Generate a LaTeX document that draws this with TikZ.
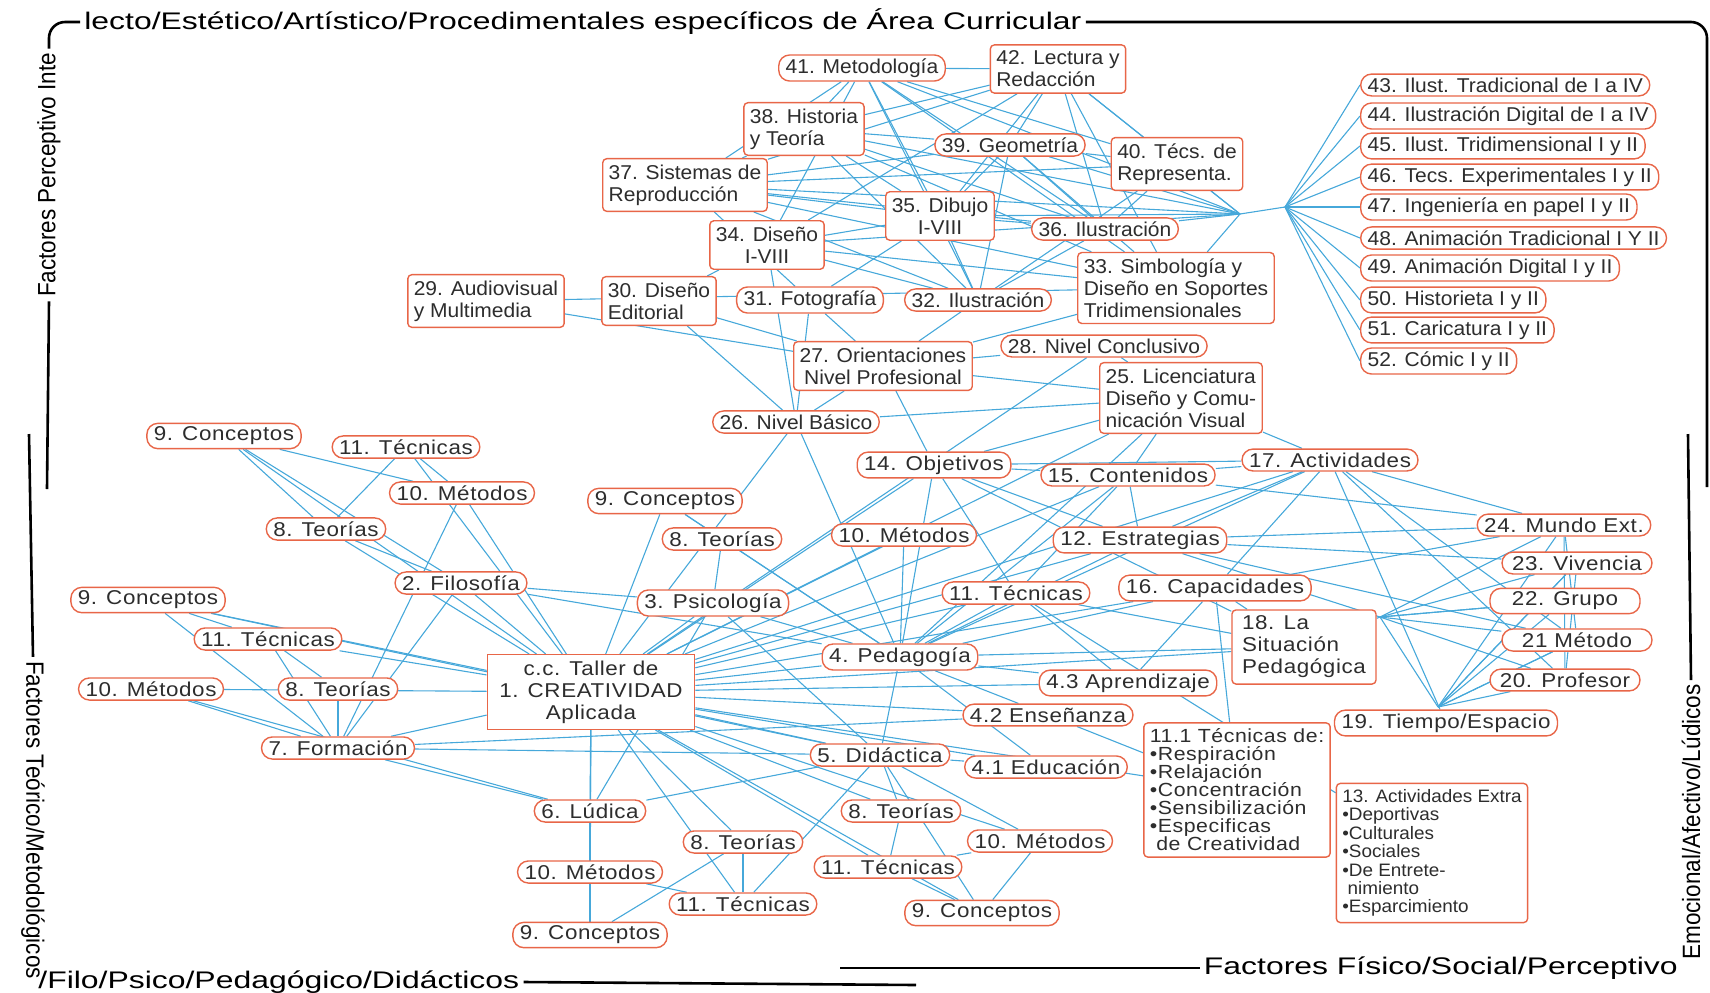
\documentclass[tikz,border=0pt]{standalone}
\usepackage{fontspec}
\setmainfont{Liberation Sans}
\newfontfamily\topfont[FakeStretch=1.05]{Liberation Sans}
\newfontfamily\lowfont[FakeStretch=1.12,LetterSpace=3]{Liberation Sans}
\newfontfamily\bordfont[FakeStretch=1.33]{Liberation Sans}
\newfontfamily\sidefont[FakeStretch=0.9]{Liberation Sans}
\usetikzlibrary{backgrounds}
\definecolor{linkblue}{RGB}{70,168,218}
\definecolor{boxred}{RGB}{232,102,72}
\definecolor{ink}{RGB}{45,45,45}

\begin{document}
\begin{tikzpicture}[x=0.5pt,y=-0.5pt,
  link/.style={linkblue,line width=0.55pt},
  bord/.style={line width=1.3pt},
  pill/.style={draw=boxred,fill=white,text=ink,line width=0.7pt,rounded corners=5.5pt,
    inner xsep=3.5pt,inner ysep=1.8pt,font=\topfont\fontsize{10}{11}\selectfont},
  lpill/.style={pill,font=\lowfont\fontsize{10}{11}\selectfont},
  card/.style={draw=boxred,fill=white,text=ink,line width=0.7pt,rounded corners=2pt,
    inner sep=3pt,align=left,font=\topfont\fontsize{10}{11}\selectfont},
  lcard/.style={card,font=\lowfont\fontsize{10}{11}\selectfont},
  side/.style={font=\sidefont\fontsize{12.5}{13}\selectfont,inner sep=2pt},
  hor/.style={font=\bordfont\fontsize{12}{13}\selectfont,inner sep=2pt}]
\useasboundingbox (0,0) rectangle (1710,992);

% frame texts
\node[hor,anchor=west] (topT) at (80,22) {lecto/Estético/Artístico/Procedimentales específicos de Área Curricular};
\node[side,rotate=90] (sideTL) at (49,175) {Factores Perceptivo Inte};
\node[side,rotate=-90] (sideBL) at (33,820) {Factores Teórico/Metodológicos};
\node[hor,anchor=west] (botT) at (34,982) {/Filo/Psico/Pedagógico/Didácticos};
\node[hor,anchor=east] (brT) at (1682,968) {Factores Físico/Social/Perceptivo};
\node[side,rotate=90] (sideR) at (1691,822) {Emocional/Afectivo/Lúdicos};
\coordinate (cR) at (1707,487);
\coordinate (cL1) at (47,489);
\coordinate (cL2) at (29,434);
\coordinate (cB1) at (916,985);
\coordinate (cB2) at (840,968);
\coordinate (cR2) at (1688,434);
\draw[bord,rounded corners=8pt] (sideTL.east) |- (topT.west);
\draw[bord,rounded corners=8pt] (topT.east) -| (cR);
\draw[bord] (sideTL.west) -- (cL1);
\draw[bord] (cL2) -- (sideBL.west);
\draw[bord] (botT.east) -- (cB1);
\draw[bord] (cB2) -- (brT.west);
\draw[bord] (sideR.east) -- (cR2);

% upper block: areas of the curriculum
\node[pill] (n41) at (862,68) {41. Metodología};
\node[card] (n42) at (1058,69) {42. Lectura y\\Redacción};
\node[card] (n38) at (804,129) {38. Historia\\y Teoría};
\node[pill] (n39) at (1010,145) {39. Geometría};
\node[card] (n40) at (1177,164) {40. Técs. de\\Representa.};
\node[card] (n37) at (685,185) {37. Sistemas de\\Reproducción};
\node[card,align=center] (n35) at (940,216) {35. Dibujo\\I-VIII};
\node[pill] (n36) at (1105,229) {36. Ilustración};
\node[card,align=center] (n34) at (767,245) {34. Diseño\\I-VIII};
\node[card] (n33) at (1176,288) {33. Simbología y\\Diseño en Soportes\\Tridimensionales};
\node[card] (n29) at (486,301) {29. Audiovisual\\y Multimedia};
\node[card] (n30) at (659,301) {30. Diseño\\Editorial};
\node[pill] (n31) at (810,300) {31. Fotografía};
\node[pill] (n32) at (978,300) {32. Ilustración};
\node[pill] (n28) at (1104,346) {28. Nivel Conclusivo};
\node[card,align=center] (n27) at (883,366) {27. Orientaciones\\Nivel Profesional};
\node[card] (n25) at (1181,398) {25. Licenciatura\\Diseño y Comu-\\nicación Visual};
\node[pill] (n26) at (796,422) {26. Nivel Básico};
\coordinate (hubB) at (1240,214);
\coordinate (hubA) at (1285,207);

% list on the right
\foreach \k/\y/\txt in {43/85/{Ilust. Tradicional de I a IV},44/116/{Ilustración Digital de I a IV},
  45/146/{Ilust. Tridimensional I y II},46/177/{Tecs. Experimentales I y II},
  47/207/{Ingeniería en papel I y II},48/238/{Animación Tradicional I Y II},
  49/268/{Animación Digital I y II},50/300/{Historieta I y II},
  51/330/{Caricatura I y II},52/361/{Cómic I y II}}
  \node[pill,anchor=west] (n\k) at (1360,\y) {\k. \txt};

% lower block
\node[lpill] (c9a) at (224,436) {9. Conceptos};
\node[lpill] (t11a) at (406,447) {11. Técnicas};
\node[lpill] (m10a) at (462,493) {10. Métodos};
\node[lpill] (t8a) at (326,529) {8. Teorías};
\node[lpill] (fil2) at (461,583) {2. Filosofía};
\node[lpill] (c9b) at (148,600) {9. Conceptos};
\node[lpill] (t11b) at (268,639) {11. Técnicas};
\node[lpill] (m10b) at (151,689) {10. Métodos};
\node[lpill] (t8b) at (338,689) {8. Teorías};
\node[lpill] (for7) at (338,748) {7. Formación};
\node[draw=boxred,fill=white,text=ink,line width=0.7pt,align=center,inner xsep=6pt,inner ysep=3pt,
  font=\lowfont\fontsize{10}{11}\selectfont] (cre1) at (591,692) {c.c. Taller de\\1. CREATIVIDAD\\Aplicada};
\node[lpill] (c9c) at (665,501) {9. Conceptos};
\node[lpill] (t8c) at (722,539) {8. Teorías};
\node[lpill] (psi3) at (713,603) {3. Psicología};
\node[lpill] (m10c) at (904,535) {10. Métodos};
\node[lpill] (obj14) at (934,465) {14. Objetivos};
\node[lpill] (con15) at (1128,475) {15. Contenidos};
\node[lpill] (act17) at (1330,460) {17. Actividades};
\node[lpill] (est12) at (1140,540) {12. Estrategias};
\node[lpill] (t11d) at (1016,593) {11. Técnicas};
\node[lpill] (cap16) at (1215,588) {16. Capacidades};
\node[lcard,minimum width=72pt,minimum height=31pt] (sit18) at (1304,647) {18. La\\Situación\\Pedagógica};
\node[lpill] (ped4) at (900,657) {4. Pedagogía};
\node[lpill] (apr43) at (1128,683) {4.3 Aprendizaje};
\node[lpill] (ens42) at (1048,715) {4.2 Enseñanza};
\node[lpill] (did5) at (880,755) {5. Didáctica};
\node[lpill] (edu41) at (1046,767) {4.1 Educación};
\node[lcard,font=\lowfont\fontsize{9.5}{9}\selectfont] (tec111) at (1237,790)
  {11.1 Técnicas de:\\•Respiración\\•Relajación\\•Concentración\\•Sensibilización\\•Especificas\\\ de Creatividad};
\node[card,font=\topfont\fontsize{9}{9.2}\selectfont,minimum width=90pt,minimum height=68pt] (ext13) at (1432,853)
  {13. Actividades Extra\\•Deportivas\\•Culturales\\•Sociales\\•De Entrete-\\\ nimiento\\•Esparcimiento};
\node[lpill] (lud6) at (590,811) {6. Lúdica};
\node[lpill] (t8e) at (743,842) {8. Teorías};
\node[lpill] (t8f) at (901,811) {8. Teorías};
\node[lpill] (m10e) at (590,872) {10. Métodos};
\node[lpill] (t11e) at (743,904) {11. Técnicas};
\node[lpill] (c9e) at (590,935) {9. Conceptos};
\node[lpill] (t11f) at (888,867) {11. Técnicas};
\node[lpill] (m10f) at (1040,841) {10. Métodos};
\node[lpill] (c9f) at (982,913) {9. Conceptos};
\node[lpill,minimum width=75pt] (mun24) at (1564,525) {24. Mundo Ext.};
\node[lpill,minimum width=75pt] (viv23) at (1577,563) {23. Vivencia};
\node[lpill,minimum width=75pt] (gru22) at (1565,601) {22. Grupo};
\node[lpill,minimum width=75pt] (met21) at (1577,640) {21 Método};
\node[lpill,minimum width=75pt] (pro20) at (1565,680) {20. Profesor};
\node[lpill] (tie19) at (1446,723) {19. Tiempo/Espacio};
\coordinate (hubC) at (1380,617);
\coordinate (hubD) at (1438,707);

\begin{pgfonlayer}{background}
% upper web
\foreach \a/\b in {n41/n38,n41/n35,n41/n34,n41/n32,n41/n36,n41/n42,n41/n37,n41/n33,n41/n40,n41/hubB,
  n42/n37,n42/n39,n42/n36,n42/n40,n42/n33,n42/n34,n42/n35,n42/n38,n42/hubB,
  n38/n35,n38/n36,n38/n32,n38/n33,n38/n37,n38/n39,n38/hubB,
  n39/n37,n39/n35,n39/n36,n39/n32,n39/n33,n39/hubB,n39/n40,
  n37/n36,n37/n33,n37/n32,n37/n35,n37/hubB,n37/n40,n37/n31,
  n40/n36,n40/hubB,n40/n32,n35/n31,n35/n32,n35/hubB,n35/n36,n35/n34,
  n36/hubB,n36/n32,n33/hubB,n33/n27,n34/n30,n34/n33,n34/hubB,n34/n32,n34/n26,
  n31/n27,n32/n27,n29/n27,n30/n27,n29/n33,n30/n26,n31/n26,
  n27/n28,n27/n25,n27/n26,n28/n25,n26/n25,hubB/hubA}
  \draw[link] (\a) -- (\b);
\foreach \k in {43,...,52} \draw[link] (hubA) -- (n\k.west);
% lower web
\foreach \a/\b in {n26/ped4,n26/cre1,n27/obj14,n25/obj14,n25/con15,n25/act17,n25/cre1,n25/ped4,n28/cre1,
  c9a/t8a,c9a/m10a,c9a/cre1,c9a/fil2,t11a/t8a,t11a/m10a,t11a/cre1,m10a/cre1,m10a/for7,
  t8a/fil2,t8a/cre1,fil2/cre1,fil2/for7,fil2/psi3,fil2/ped4,
  c9b/cre1,c9b/t11b,c9b/for7,c9b/did5,t11b/for7,t11b/cre1,t11b/t8b,
  m10b/for7,m10b/cre1,m10b/lud6,t8b/for7,for7/cre1,for7/lud6,for7/did5,for7/ens42,
  cre1/lud6,cre1/m10e,cre1/c9e,cre1/t11e,cre1/t8e,cre1/t8f,cre1/did5,cre1/ped4,cre1/psi3,
  cre1/c9c,cre1/apr43,cre1/ens42,cre1/edu41,cre1/tec111,cre1/est12,cre1/obj14,cre1/m10c,
  cre1/con15,cre1/cap16,cre1/t11d,cre1/sit18,cre1/act17,cre1/t11f,cre1/m10f,cre1/c9f,
  c9c/ped4,c9c/t8c,t8c/psi3,t8c/ped4,psi3/ped4,psi3/did5,psi3/lud6,m10c/ped4,
  obj14/ped4,obj14/con15,obj14/est12,obj14/t11d,obj14/sit18,obj14/act17,
  con15/act17,con15/est12,con15/ped4,con15/mun24,con15/t11d,
  act17/mun24,act17/cap16,act17/est12,act17/tie19,act17/pro20,act17/met21,act17/ped4,
  est12/ped4,est12/viv23,est12/met21,est12/hubC,est12/mun24,
  t11d/ped4,t11d/apr43,t11d/ext13,t11d/sit18,cap16/ped4,cap16/sit18,cap16/apr43,cap16/mun24,
  sit18/hubC,sit18/ped4,ped4/did5,ped4/apr43,ped4/ens42,ped4/edu41,
  tec111/ens42,tec111/cap16,edu41/did5,did5/lud6,did5/t8f,did5/m10f,did5/c9f,did5/t11e,
  lud6/m10e,lud6/c9e,t8e/c9e,t8e/t11e,m10e/c9e,m10e/t11e,t8f/t11f,t11f/c9f,m10f/c9f,m10f/t11f,
  hubC/mun24,hubC/viv23,hubC/gru22,hubC/met21,hubC/pro20,hubC/hubD,
  hubD/mun24,hubD/viv23,hubD/gru22,hubD/met21,hubD/pro20,
  mun24/met21,mun24/pro20,viv23/pro20,viv23/hubD,gru22/hubC,met21/hubD}
  \draw[link] (\a) -- (\b);
\end{pgfonlayer}
\end{tikzpicture}
\end{document}
